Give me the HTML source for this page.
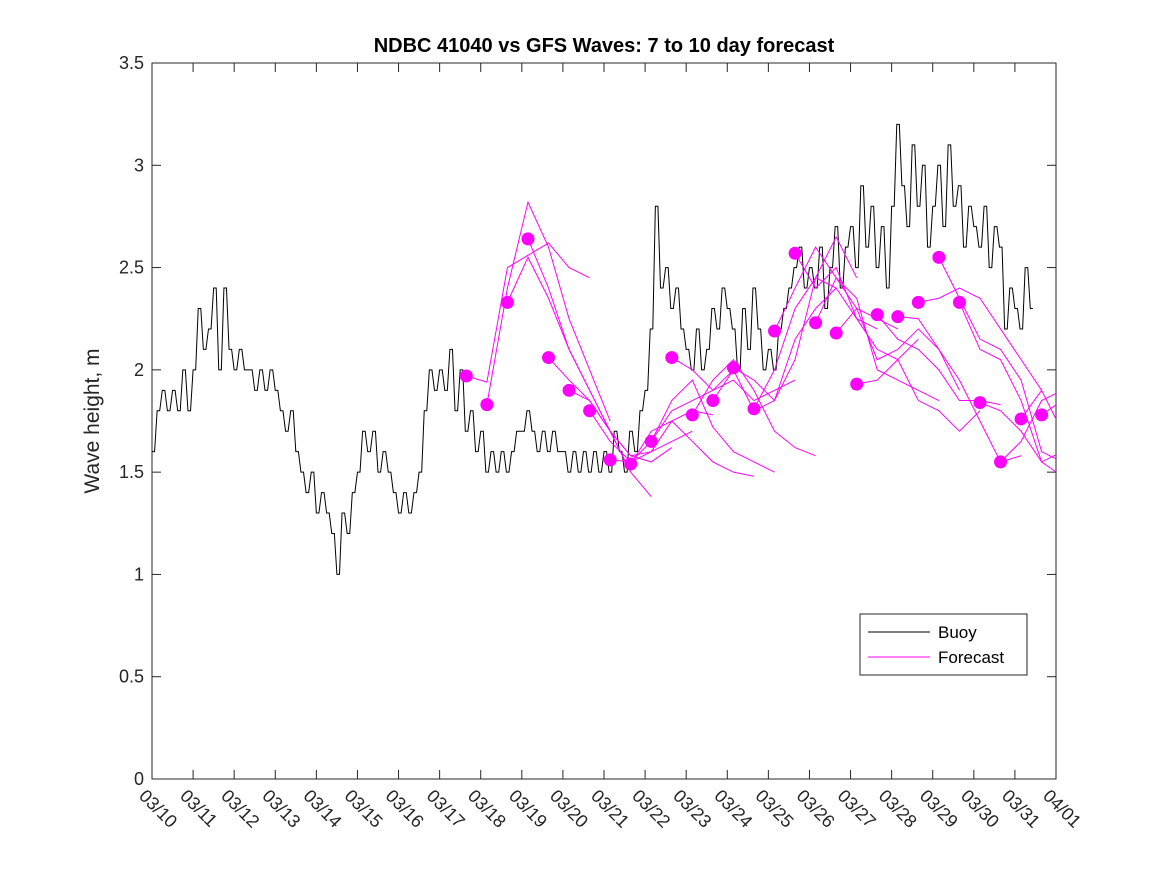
<!DOCTYPE html>
<html><head><meta charset="utf-8"><style>
body{margin:0;background:#fff;}
svg{font-family:"Liberation Sans","DejaVu Sans",sans-serif;}
</style></head><body>
<svg width="1167" height="875" viewBox="0 0 1167 875" id="chart">
<defs><clipPath id="plotclip"><rect x="152" y="63" width="904" height="716"/></clipPath></defs>
<rect x="0" y="0" width="1167" height="875" fill="#fff"/>
<rect x="152" y="63" width="904" height="716" fill="#fff" stroke="#262626" stroke-width="1"/>
<text x="604" y="52" text-anchor="middle" font-size="20" font-weight="bold" fill="#000">NDBC 41040 vs GFS Waves: 7 to 10 day forecast</text>
<text transform="translate(99,421) rotate(-90)" text-anchor="middle" font-size="21" fill="#262626">Wave height, m</text>
<g id="axes"></g>
<g id="series" clip-path="url(#plotclip)"></g>
<g>
<rect x="860" y="614" width="167" height="61" fill="#fff" stroke="#262626"/>
<line x1="868" y1="632" x2="930" y2="632" stroke="#000"/>
<text x="938" y="638" font-size="17" fill="#000">Buoy</text>
<line x1="868" y1="657" x2="930" y2="657" stroke="#ff00ff"/>
<text x="938" y="663" font-size="17" fill="#000">Forecast</text>
</g>
</svg>
<script>
const xTickLabels=["03/10","03/11","03/12","03/13","03/14","03/15","03/16","03/17","03/18","03/19","03/20","03/21","03/22","03/23","03/24","03/25","03/26","03/27","03/28","03/29","03/30","03/31","04/01"];
const yTicks=[0,0.5,1,1.5,2,2.5,3,3.5];
const buoyStart=10; // day of month at first sample, 3-hour samples
const buoyValues=[
1.6,1.8,1.9,1.8,1.9,1.8,2.0,1.8,
2.0,2.3,2.1,2.2,2.4,2.0,2.4,2.1,
2.0,2.1,2.0,2.0,1.9,2.0,1.9,2.0,
1.9,1.8,1.7,1.8,1.6,1.5,1.4,1.5,
1.3,1.4,1.3,1.2,1.0,1.3,1.2,1.4,
1.5,1.7,1.6,1.7,1.5,1.6,1.5,1.4,
1.3,1.4,1.3,1.4,1.5,1.8,2.0,1.9,
2.0,1.9,2.1,1.8,2.0,1.7,1.8,1.6,
1.7,1.5,1.6,1.5,1.6,1.5,1.6,1.7,
1.7,1.8,1.7,1.6,1.7,1.6,1.7,1.6,
1.6,1.5,1.6,1.5,1.6,1.5,1.6,1.5,
1.6,1.5,1.7,1.6,1.5,1.7,1.6,1.8,
1.9,2.2,2.8,2.4,2.5,2.3,2.4,2.2,
2.1,2.0,2.2,2.0,2.1,2.3,2.2,2.4,
2.3,2.2,2.0,2.3,2.1,2.4,2.2,2.0,
2.1,2.0,2.2,2.3,2.4,2.5,2.6,2.4,
2.5,2.4,2.6,2.3,2.5,2.7,2.4,2.6,
2.7,2.5,2.9,2.6,2.8,2.5,2.7,2.4,
2.8,3.2,2.9,2.7,3.1,2.8,3.0,2.6,
2.8,3.0,2.7,3.1,2.8,2.9,2.6,2.8,
2.7,2.6,2.8,2.5,2.7,2.6,2.2,2.4,
2.3,2.2,2.5,2.3];
const forecastStarts=[17.65,18.15,18.65,19.15,19.65,20.15,20.65,21.15,21.65,22.15,22.65,23.15,23.65,24.15,24.65,25.15,25.65,26.15,26.65,27.15,27.65,28.15,28.65,29.15,29.65,30.15,30.65,31.15,31.65];
const forecastValues=[
[1.97,1.94,2.50,2.56,2.62,2.50,2.45],
[1.83,2.40,2.82,2.60,2.25,2.00,1.75],
[2.33,2.55,2.35,2.10,1.90,1.70,1.50],
[2.64,2.40,2.10,1.90,1.70,1.50,1.38],
[2.06,1.95,1.85,1.70,1.58,1.55,1.62],
[1.90,1.85,1.70,1.58,1.60,1.65,1.70],
[1.80,1.65,1.55,1.60,1.75,1.80,1.78],
[1.56,1.55,1.65,1.80,1.85,1.90,2.00],
[1.54,1.70,1.75,1.65,1.55,1.50,1.48],
[1.65,1.85,1.95,1.72,1.60,1.55,1.50],
[2.06,2.00,1.90,1.95,1.85,1.90,1.95],
[1.78,1.95,2.05,1.90,1.70,1.62,1.58],
[1.85,2.00,1.80,1.85,2.15,2.30,2.40],
[2.01,1.95,1.85,2.05,2.45,2.65,2.45],
[1.81,2.00,2.30,2.45,2.40,2.25,2.20],
[2.19,2.40,2.60,2.45,2.30,2.25,2.20],
[2.57,2.40,2.50,2.25,2.10,2.05,2.15],
[2.23,2.45,2.35,2.00,1.95,1.90,1.85],
[2.18,2.30,2.05,2.10,2.20,2.10,1.90],
[1.93,1.95,2.05,1.85,1.80,1.70,1.80],
[2.27,2.15,2.10,2.00,1.85,1.85,1.83],
[2.26,2.25,2.10,1.95,1.75,1.55,1.58],
[2.33,2.35,2.40,2.35,2.20,2.05,1.90],
[2.55,2.35,2.15,2.10,1.95,1.60,1.55],
[2.33,2.10,2.05,1.85,1.55,1.48,1.60],
[1.84,1.80,1.70,1.55,1.60,1.70,1.75],
[1.55,1.65,1.85,1.90,1.80,1.75,1.80],
[1.76,1.90,1.70,1.75,1.80,1.80,1.80],
[1.78,1.85,1.80,1.80,1.80,1.80,1.80]];
const NS="http://www.w3.org/2000/svg";
const X0=152,X1=1056,Y0=779,Y1=63;
function xs(d){return X0+(d-10)/22*(X1-X0);}
function ys(v){return Y0-v/3.5*(Y0-Y1);}
function mk(tag,attrs,parent){const e=document.createElementNS(NS,tag);for(const k in attrs)e.setAttribute(k,attrs[k]);parent.appendChild(e);return e;}
const axes=document.getElementById('axes'),series=document.getElementById('series');
xTickLabels.forEach((lab,i)=>{const x=xs(10+i);
 let t=mk('line',{x1:x,y1:Y0,x2:x,y2:Y0-9,stroke:'#262626'},axes);
 
 
 let t2=mk('line',{x1:x,y1:Y1,x2:x,y2:Y1+9,stroke:'#262626'},axes);
 
 
 let tx=mk('text',{transform:`translate(${x-14},${Y0+18}) rotate(45)`,'font-size':18,fill:'#262626'},axes);
 tx.textContent=lab;
 
 
});
yTicks.forEach(v=>{const y=ys(v);
 let t=mk('line',{x1:X0,y1:y,x2:X0+9,y2:y,stroke:'#262626'},axes);
 
 
 let t2=mk('line',{x1:X1,y1:y,x2:X1-9,y2:y,stroke:'#262626'},axes);
 
 
 let tx=mk('text',{x:X0-8,y:y+6,'text-anchor':'end','font-size':18,fill:'#262626'},axes);
 tx.textContent=String(v);
 
 
});
let pts=[];buoyValues.forEach((v,i)=>{const d=buoyStart+i/8;pts.push(xs(d)+','+ys(v));pts.push(xs(d+1/16)+','+ys(v));});
let bl=mk('polyline',{points:pts.join(' '),fill:'none',stroke:'#000','stroke-width':1},series);


forecastValues.forEach((arr,k)=>{const s=forecastStarts[k];
 const p=arr.map((v,i)=>xs(s+i*0.5)+','+ys(v)).join(' ');
 let l=mk('polyline',{points:p,fill:'none',stroke:'#ff00ff','stroke-width':1},series);
 
 
});
forecastValues.forEach((arr,k)=>{
 let c=mk('circle',{cx:xs(forecastStarts[k]),cy:ys(arr[0]),r:6.5,fill:'#ff00ff'},series);
 
 
});
</script>
</body></html>
